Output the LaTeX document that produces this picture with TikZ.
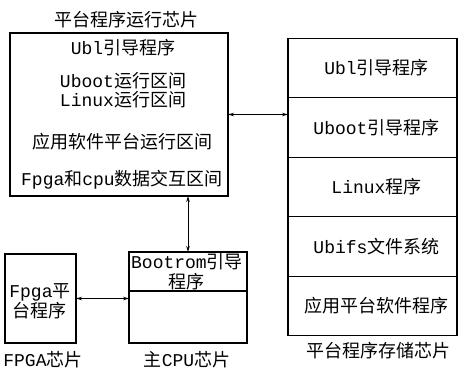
\documentclass[tikz,border=0pt]{standalone}
\usepackage{fontspec}
\setmainfont{Noto Sans CJK SC}
\newfontfamily\lat{Liberation Mono}
\usetikzlibrary{arrows.meta}
\newcommand{\lt}[1]{{\lat #1}}
\tikzset{
  box/.style={draw, line width=1.1pt, inner sep=0pt, outer sep=0pt},
  txt/.style={inner sep=0pt, font=\fontsize{18}{20}\selectfont, align=center},
  conn/.style={line width=0.9pt, {Stealth[length=6pt,width=3.5pt]}-{Stealth[length=6pt,width=3.5pt]}}
}
\begin{document}
\begin{tikzpicture}[x=1pt,y=-1pt]
\useasboundingbox (0,0) rectangle (459,370);
% left main box
\node[box, minimum width=218pt, minimum height=163pt] (L) at (119,114.5) {};
\node[txt] (ltitle) at (127,20) {平台程序运行芯片};
\node[txt] (l1) at (123,48) {\lt{Ubl}引导程序};
\node[txt, font=\fontsize{18}{19}\selectfont] (l2) at (123,90.5) {\lt{Uboot}运行区间\\\lt{Linux}运行区间};
\node[txt] (l4) at (123,142) {应用软件平台运行区间};
\node[txt] (l5) at (122,180) {\lt{Fpga}和\lt{cpu}数据交互区间};
% right storage box
\node[box, minimum width=169pt, minimum height=59.5pt] (r1) at (372.5,68) {};
\node[box, minimum width=169pt, minimum height=59.5pt, anchor=north] (r2) at (r1.south) {};
\node[box, minimum width=169pt, minimum height=59.5pt, anchor=north] (r3) at (r2.south) {};
\node[box, minimum width=169pt, minimum height=59.5pt, anchor=north] (r4) at (r3.south) {};
\node[box, minimum width=169pt, minimum height=59.5pt, anchor=north] (r5) at (r4.south) {};
\node[txt] (t1) at ([xshift=4pt]r1.center) {\lt{Ubl}引导程序};
\node[txt] (t2) at ([xshift=4pt]r2.center) {\lt{Uboot}引导程序};
\node[txt] (t3) at ([xshift=4pt]r3.center) {\lt{Linux}程序};
\node[txt] (t4) at ([xshift=4pt]r4.center) {\lt{Ubifs}文件系统};
\node[txt] (t5) at ([xshift=4pt]r5.center) {应用平台软件程序};
\node[txt] (rtitle) at (378,351) {平台程序存储芯片};
% bootrom box
\node[box, minimum width=118pt, minimum height=39pt] (b1) at (188,271.5) {};
\node[box, minimum width=118pt, minimum height=52pt, anchor=north] (b2) at (b1.south) {};
\node[txt] (bt) at (187,272) {\lt{Bootrom}引导\\程序};
\node[txt] (btitle) at (187,360) {主\lt{CPU}芯片};
% fpga box
\node[box, minimum width=71pt, minimum height=89pt] (F) at (40.5,298.5) {};
\node[txt] (ft) at (40,301) {\lt{Fpga}平\\台程序};
\node[txt] (ftitle) at (43,360) {\lt{FPGA}芯片};
% connectors
\draw[conn] (L.east) -- (L.east -| r2.west);
\draw[conn] (L.south -| b1.north) -- (b1.north);
\draw[conn] (F.east) -- (F.east -| b1.west);
\end{tikzpicture}
\end{document}
